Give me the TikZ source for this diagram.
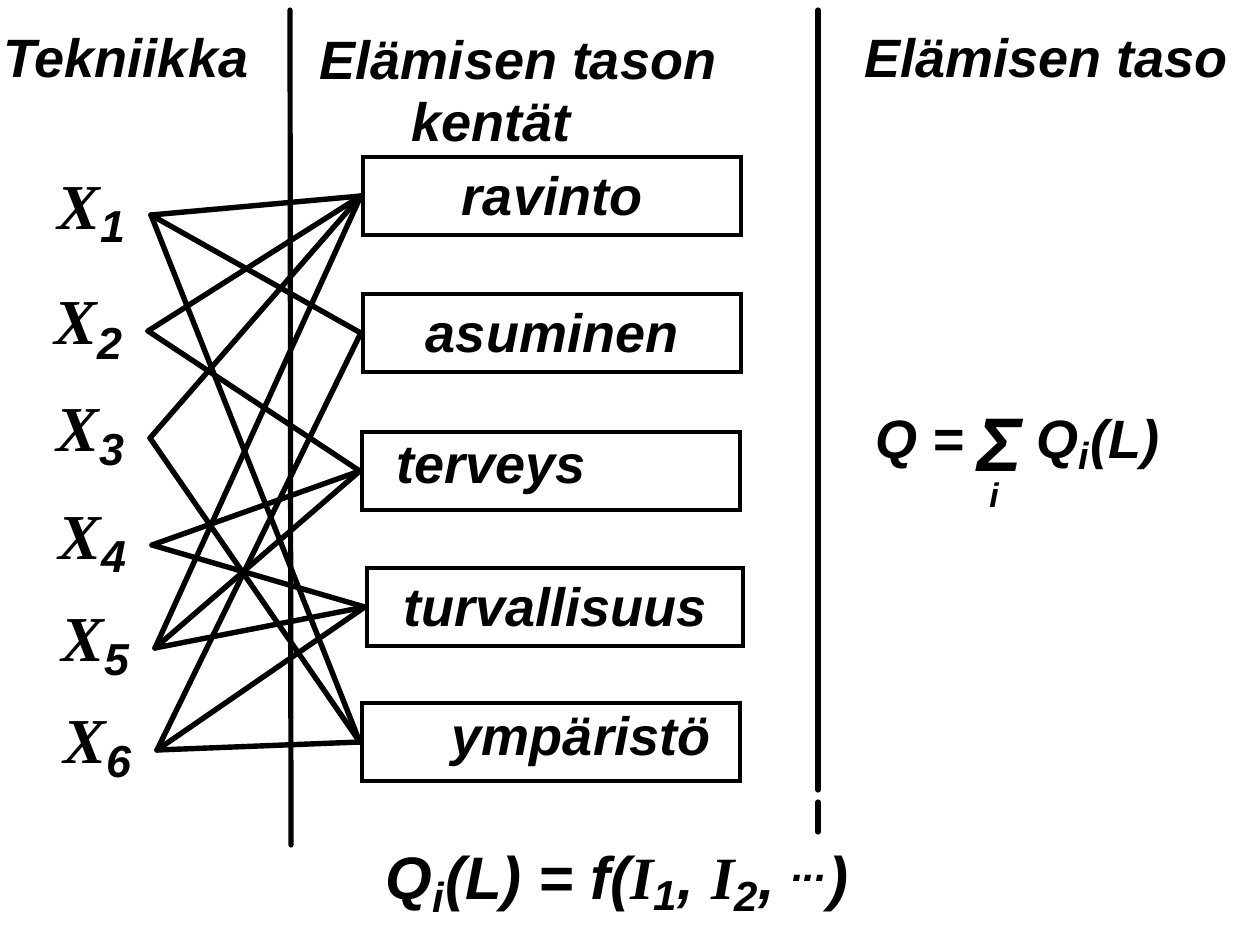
\documentclass[tikz,border=0pt]{standalone}
\usepackage{fontspec}
\setmainfont{Liberation Sans}
\newfontfamily\barfont{Liberation Serif}
\usetikzlibrary{positioning}

\newcommand{\xvar}[1]{{\barfont X}\textsubscript{#1}}
\newcommand{\ivar}[1]{{\barfont I}\textsubscript{#1}}

\begin{document}
\begin{tikzpicture}[
    x=0.5pt, y=-0.5pt,
    font=\bfseries\itshape\fontsize{27}{31}\selectfont,
    rule/.style={line width=2.6pt, line cap=round},
    link/.style={line width=2.7pt, line cap=round},
    field/.style={
      draw,
      line width=2.2pt,
      minimum width=189pt,
      minimum height=39pt,
      inner sep=0pt,
    },
    xlab/.style={
      inner sep=0pt,
      font=\bfseries\itshape\fontsize{32}{34}\selectfont,
    },
  ]
    \useasboundingbox (0,0) rectangle (1239,928);

    % column rules
    \draw[rule] (290,10) -- (291,845);
    \draw[rule] (818,10) -- (818,790);
    \draw[rule] (818,802) -- (818,832);

    % headings
    \node (tek) at (126,58) {Tekniikka};
    \node (head2) at (518,60) {Elämisen tason};
    \node[below=4pt of head2.south west, anchor=north west, xshift=46pt] (head2b) {kentät};
    \node (head3) at (1046,58) {Elämisen taso};

    % technique points
    \coordinate (x1) at (151,215);
    \coordinate (x2) at (148,331);
    \coordinate (x3) at (150,438);
    \coordinate (x4) at (152,545);
    \coordinate (x5) at (155,648);
    \coordinate (x6) at (157,750);
    \foreach \i in {1,...,6} {
      \node[xlab, left=12pt of x\i] (lx\i) {\xvar{\i}};
    }

    % fields of the level of living
    \node[field] (rav) at (552,196) {ravinto};
    \node[field] (asu) at (552,333) {asuminen};
    \node[field] (ter) at (551,471) {\hspace*{-60pt}terveys};
    \node[field, minimum width=188pt] (tur) at (555,607) {turvallisuus};
    \node[field] (ymp) at (551,742) {\hspace*{30pt}ympäristö};

    \draw[link] (x1) -- (rav.west);
    \draw[link] (x1) -- (asu.west);
    \draw[link] (x1) -- (ymp.west);
    \draw[link] (x2) -- (rav.west);
    \draw[link] (x2) -- (ter.west);
    \draw[link] (x3) -- (rav.west);
    \draw[link] (x3) -- (ymp.west);
    \draw[link] (x4) -- (ter.west);
    \draw[link] (x4) -- (tur.west);
    \draw[link] (x5) -- (rav.west);
    \draw[link] (x5) -- (ter.west);
    \draw[link] (x5) -- (tur.west);
    \draw[link] (x6) -- (asu.west);
    \draw[link] (x6) -- (tur.west);
    \draw[link] (x6) -- (ymp.west);

    % formulas
    \node (qa) at (920,445) {Q =};
    \node[align=center, inner sep=0pt,
      font=\bfseries\itshape\fontsize{38}{38}\selectfont] (sig) at (1000,463)
      {Σ\\[-20pt]{\fontsize{17}{18}\selectfont i\hspace*{6pt}}};
    \node (qb) at (1098,445) {Q\textsubscript{i}(L)};
    \node[font=\bfseries\itshape\fontsize{30}{34}\selectfont] (qfun) at (617,884)
      {Q\textsubscript{i}(L) = f(\ivar{1}, \ivar{2}, \textsuperscript{...})};
  \end{tikzpicture}
\end{document}
